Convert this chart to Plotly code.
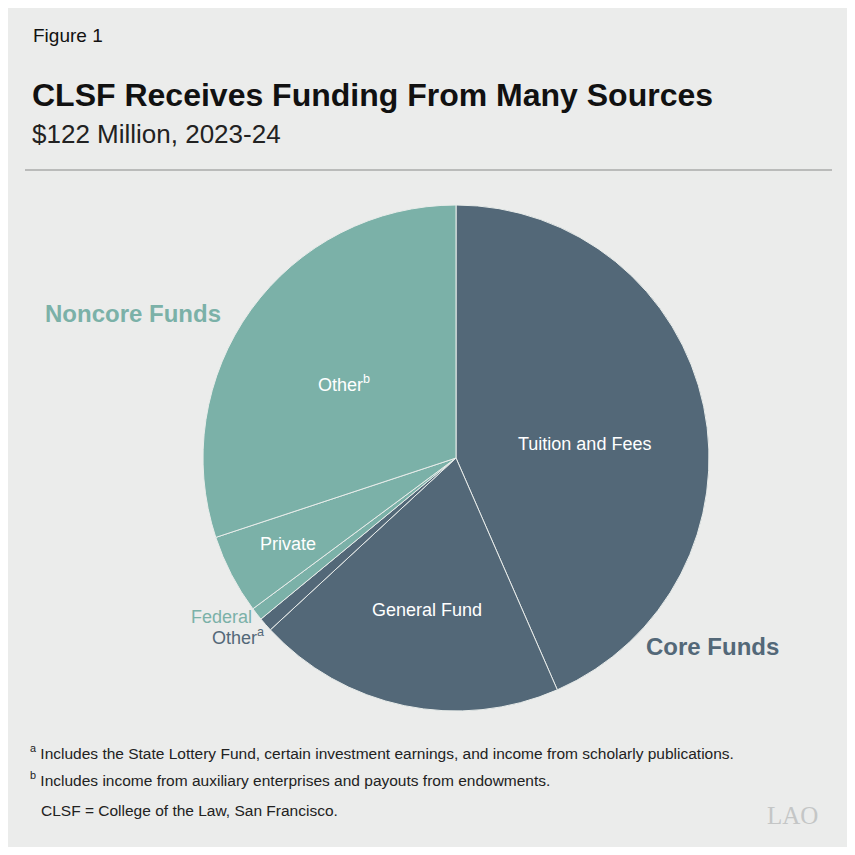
import plotly.graph_objects as go

labels = ["Tuition and Fees", "General Fund", "Other<sup>a</sup>", "Federal", "Private", "Other<sup>b</sup>"]
values = [53.0, 24.0, 1.1, 1.0, 6.2, 36.7]
groups = ["Core", "Core", "Core", "Noncore", "Noncore", "Noncore"]

CORE = "#536878"
NONCORE = "#7bb1a8"
BG = "#ebeceb"
colors = [CORE if g == "Core" else NONCORE for g in groups]

OFF = 8          # page body margin
W = 855 - 2 * OFF
cx, cy, r = 456 - OFF, 458 - OFF, 253

fig = go.Figure(go.Pie(
    labels=labels, values=values, sort=False, direction="clockwise", rotation=0,
    marker=dict(colors=colors, line=dict(color="#e8ecea", width=1)),
    textinfo="none", hoverinfo="label+value", showlegend=False,
    domain=dict(x=[(cx - r) / W, (cx + r) / W], y=[1 - (cy + r) / W, 1 - (cy - r) / W]),
))

def px(x):
    return (x - OFF) / W

def py(y):
    return 1 - (y - OFF) / W

annots = []
def add(text, x, y, size, color, xanchor="center", bold=False, family="Liberation Sans"):
    if bold:
        text = "<b>" + text + "</b>"
    annots.append(dict(text=text, x=px(x), y=py(y), xref="paper", yref="paper",
                       xanchor=xanchor, yanchor="middle", showarrow=False,
                       font=dict(size=size, color=color, family=family)))

# slice labels
add(labels[0], 584, 444, 18, "white")
add(labels[1], 427, 610, 18, "white")
add(labels[4], 288, 544, 18, "white")
add(labels[5], 344, 383, 18, "white")
add(labels[3], 254, 617, 18, NONCORE, xanchor="right")
add(labels[2], 266, 636, 18, CORE, xanchor="right")

add("Noncore Funds", 133, 314, 24, NONCORE, bold=True)
add("Core Funds", 712, 646, 24, CORE, bold=True)

# titles
add("Figure 1", 31, 36, 19, "#111", xanchor="left")
add("CLSF Receives Funding From Many Sources", 30, 95, 32, "#111", xanchor="left", bold=True)
add("$122 Million, 2023-24", 30, 134, 26, "#222", xanchor="left")

# footnotes
fn = "Liberation Sans"
add("<sup>a</sup> Includes the State Lottery Fund, certain investment earnings, and income from scholarly publications.", 28, 752, 15.5, "#222", xanchor="left", family=fn)
add("<sup>b</sup> Includes income from auxiliary enterprises and payouts from endowments.", 28, 779, 15.5, "#222", xanchor="left", family=fn)
add("CLSF = College of the Law, San Francisco.", 39, 810, 15.5, "#222", xanchor="left", family=fn)
add("LAO", 792, 815, 25, "#c4c6c6", family="Liberation Serif")

fig.update_layout(
    width=W, height=W, margin=dict(l=0, r=0, t=0, b=0),
    paper_bgcolor=BG, plot_bgcolor=BG,
    annotations=annots,
    shapes=[dict(type="line", xref="paper", yref="paper", x0=px(25), x1=px(832), y0=py(170), y1=py(170),
                 line=dict(color="#8a8a8a", width=1.2))],
)

fig.write_html("out.html")
